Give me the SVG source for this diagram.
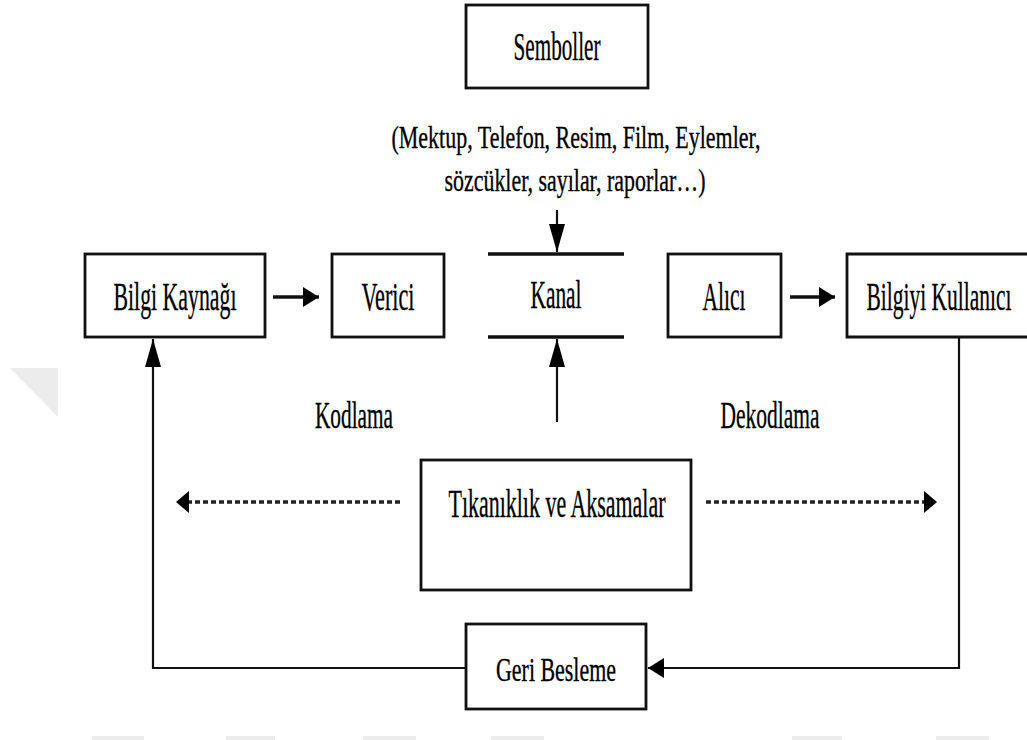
<svg xmlns="http://www.w3.org/2000/svg" width="1027" height="740" viewBox="0 0 1027 740">
<style>
.box{fill:#fff;stroke:#111;stroke-width:2.8}
.ln{fill:none;stroke:#111;stroke-width:2.2}
.thick{fill:none;stroke:#111;stroke-width:3.4}
.dot{fill:none;stroke:#222;stroke-width:3.5;stroke-dasharray:5 3}
.t{font-family:"Liberation Serif","Times New Roman",serif;fill:#000;stroke:#000;stroke-width:0.35;text-anchor:middle}
.wm{fill:#ececec}
</style>
<defs>
<marker id="ah" markerUnits="userSpaceOnUse" markerWidth="18" markerHeight="22" refX="16" refY="10" orient="auto">
<path d="M0,0 L16,10 L0,20 Z" fill="#000"/>
</marker>
<marker id="ahv" markerUnits="userSpaceOnUse" markerWidth="30" markerHeight="18" refX="28" refY="8" orient="auto">
<path d="M0,0 L28,8 L0,16 Z" fill="#000"/>
</marker>
<marker id="ahd" markerUnits="userSpaceOnUse" markerWidth="16" markerHeight="24" refX="13" refY="11" orient="auto">
<path d="M0,0 L13,11 L0,22 Z" fill="#000"/>
</marker>
</defs>
<rect width="1027" height="740" fill="#fff"/>
<g id="watermark">
<polygon class="wm" points="10,368 58,368 58,417"/>
<rect class="wm" x="92" y="736" width="52" height="4"/>
<rect class="wm" x="226" y="736" width="49" height="4"/>
<rect class="wm" x="363" y="736" width="53" height="4"/>
<rect class="wm" x="491" y="736" width="53" height="4"/>
<rect class="wm" x="792" y="736" width="50" height="4"/>
<rect class="wm" x="936" y="736" width="53" height="4"/>
</g>
<g id="connectors">
<line class="ln" x1="557" y1="210" x2="557" y2="252" marker-end="url(#ahv)"/>
<line class="ln" x1="557" y1="422" x2="557" y2="339" marker-end="url(#ahv)"/>
<line class="thick" x1="273" y1="297" x2="319" y2="297" marker-end="url(#ah)"/>
<line class="thick" x1="790" y1="297" x2="835" y2="297" marker-end="url(#ah)"/>
<polyline class="ln" points="466,668 153,668 153,339" marker-end="url(#ahv)"/>
<polyline class="ln" points="959,337 959,668 648,668" marker-end="url(#ah)"/>
<line class="dot" x1="400" y1="502" x2="176" y2="502" marker-end="url(#ahd)"/>
<line class="dot" x1="706" y1="502" x2="937" y2="502" marker-end="url(#ahd)"/>
</g>
<g id="semboller">
<rect class="box" x="466" y="5" width="182" height="83"/>
<text class="t" x="557" y="60" font-size="40" textLength="87" lengthAdjust="spacingAndGlyphs">Semboller</text>
</g>
<g id="ornekler">
<text class="t" x="576" y="148" font-size="32" textLength="369" lengthAdjust="spacingAndGlyphs">(Mektup, Telefon, Resim, Film, Eylemler,</text>
<text class="t" x="575" y="191" font-size="32" textLength="261" lengthAdjust="spacingAndGlyphs">sözcükler, sayılar, raporlar…)</text>
</g>
<g id="bilgi-kaynagi">
<rect class="box" x="85" y="254" width="180" height="83"/>
<text class="t" x="175" y="310" font-size="40" textLength="123" lengthAdjust="spacingAndGlyphs">Bilgi Kaynağı</text>
</g>
<g id="verici">
<rect class="box" x="332" y="254" width="112" height="83"/>
<text class="t" x="388" y="310" font-size="40" textLength="53" lengthAdjust="spacingAndGlyphs">Verici</text>
</g>
<g id="kanal">
<line class="thick" x1="488" y1="254" x2="624" y2="254"/>
<line class="thick" x1="488" y1="337" x2="624" y2="337"/>
<text class="t" x="556" y="308" font-size="40" textLength="51" lengthAdjust="spacingAndGlyphs">Kanal</text>
</g>
<g id="alici">
<rect class="box" x="668" y="254" width="113" height="83"/>
<text class="t" x="724" y="310" font-size="40" textLength="43" lengthAdjust="spacingAndGlyphs">Alıcı</text>
</g>
<g id="bilgiyi-kullanici">
<path class="box" d="M1027,254 H847 V337 H1027"/>
<text class="t" transform="translate(939,310) scale(0.537,1)" x="0" y="0" font-size="40">Bilgiyi Kullanıcı</text>
</g>
<g id="kodlama">
<text class="t" x="354" y="428" font-size="37" textLength="78" lengthAdjust="spacingAndGlyphs">Kodlama</text>
</g>
<g id="dekodlama">
<text class="t" x="770" y="428" font-size="37" textLength="99" lengthAdjust="spacingAndGlyphs">Dekodlama</text>
</g>
<g id="tikaniklik">
<rect class="box" x="421" y="460" width="270" height="130"/>
<text class="t" x="557" y="517" font-size="40" textLength="217" lengthAdjust="spacingAndGlyphs">Tıkanıklık ve Aksamalar</text>
</g>
<g id="geri-besleme">
<rect class="box" x="466" y="624" width="180" height="85"/>
<text class="t" x="556" y="681" font-size="34" textLength="120" lengthAdjust="spacingAndGlyphs">Geri Besleme</text>
</g>
</svg>
